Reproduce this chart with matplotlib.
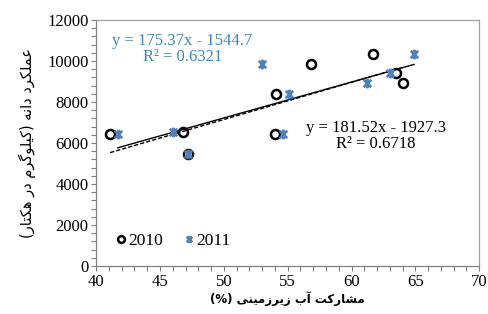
import matplotlib.pyplot as plt
from matplotlib.path import Path
from matplotlib.ticker import MultipleLocator

### Data ###

share_2010 = [41.1, 46.8, 47.2, 54.0, 54.1, 56.8, 61.7, 63.5, 64.0]
yield_2010 = [6450, 6540, 5460, 6420, 8390, 9850, 10330, 9430, 8910]

share_2011 = [41.7, 46.0, 47.2, 53.0, 54.6, 55.1, 61.2, 63.0, 64.9]
yield_2011 = [6420, 6520, 5460, 9850, 6420, 8370, 8940, 9430, 10340]

fit_2010 = (181.52, -1927.3, 0.6718)
fit_2011 = (175.37, -1544.7, 0.6321)

x_ticks = [40, 45, 50, 55, 60, 65, 70]
y_ticks = [0, 2000, 4000, 6000, 8000, 10000, 12000]

x_label = 'مشارکت آب زیرزمینی (%)'
y_label = 'عملکرد دانه (کیلوگرم در هکتار)'


### Persian shaping (no arabic_reshaper available) ###
# isolated, final, initial, medial
FORMS = {
    'ا': ('\uFE8D', '\uFE8E', None, None),
    'آ': ('\uFE81', '\uFE82', None, None),
    'د': ('\uFEA9', '\uFEAA', None, None),
    'ذ': ('\uFEAB', '\uFEAC', None, None),
    'ر': ('\uFEAD', '\uFEAE', None, None),
    'ز': ('\uFEAF', '\uFEB0', None, None),
    'ژ': ('\uFB8A', '\uFB8B', None, None),
    'و': ('\uFEED', '\uFEEE', None, None),
    'ب': ('\uFE8F', '\uFE90', '\uFE91', '\uFE92'),
    'پ': ('\uFB56', '\uFB57', '\uFB58', '\uFB59'),
    'ت': ('\uFE95', '\uFE96', '\uFE97', '\uFE98'),
    'ج': ('\uFE9D', '\uFE9E', '\uFE9F', '\uFEA0'),
    'س': ('\uFEB1', '\uFEB2', '\uFEB3', '\uFEB4'),
    'ش': ('\uFEB5', '\uFEB6', '\uFEB7', '\uFEB8'),
    'ع': ('\uFEC9', '\uFECA', '\uFECB', '\uFECC'),
    'ف': ('\uFED1', '\uFED2', '\uFED3', '\uFED4'),
    'ک': ('\uFB8E', '\uFB8F', '\uFB90', '\uFB91'),
    'گ': ('\uFB92', '\uFB93', '\uFB94', '\uFB95'),
    'ل': ('\uFEDD', '\uFEDE', '\uFEDF', '\uFEE0'),
    'م': ('\uFEE1', '\uFEE2', '\uFEE3', '\uFEE4'),
    'ن': ('\uFEE5', '\uFEE6', '\uFEE7', '\uFEE8'),
    'ه': ('\uFEE9', '\uFEEA', '\uFEEB', '\uFEEC'),
    'ی': ('\uFBFC', '\uFBFD', '\uFBFE', '\uFBFF'),
}


def rtl(text):
    out = []
    for i, c in enumerate(text):
        if c not in FORMS:
            out.append(c)
            continue
        prev = text[i - 1] if i > 0 else ''
        nxt = text[i + 1] if i + 1 < len(text) else ''
        join_prev = prev in FORMS and FORMS[prev][2] is not None
        join_next = nxt in FORMS and FORMS[c][2] is not None
        iso, fin, ini, med = FORMS[c]
        if join_prev and join_next:
            out.append(med)
        elif join_prev:
            out.append(fin)
        elif join_next:
            out.append(ini)
        else:
            out.append(iso)
    mirror = {'(': ')', ')': '('}
    return ''.join(mirror.get(c, c) for c in reversed(out))


def eq_text(fit):
    a, b, r2 = fit
    sign = '-' if b < 0 else '+'
    return 'y = %.2fx %s %.1f\nR² = %.4f' % (a, sign, abs(b), r2)


### Plotting ###

plt.rcParams['font.family'] = ['Liberation Serif', 'DejaVu Sans']

blue = '#4f81bd'
star = Path([(-1, -1), (1, 1), (-1, 1), (1, -1), (0, -1.3), (0, 1.3)],
            [Path.MOVETO, Path.LINETO, Path.MOVETO, Path.LINETO, Path.MOVETO, Path.LINETO])

fig = plt.figure(figsize=(4.88, 3.14), dpi=100)
ax = fig.add_axes([0.197, 0.153, 0.785, 0.783])

ax.plot(share_2010, yield_2010, linestyle='none', marker='o', markersize=6.5,
        markerfacecolor='none', markeredgecolor='black', markeredgewidth=1.8, label='2010', zorder=3)
ax.plot(share_2011, yield_2011, linestyle='none', marker=star, markersize=7,
        markerfacecolor='none', markeredgecolor=blue, markeredgewidth=2.0, label='2011', zorder=3)

# trend lines over each series' range
for xs, (a, b, r2), ls in [(share_2010, fit_2010, (0, (3, 1.5))), (share_2011, fit_2011, '-')]:
    x0, x1 = min(xs), max(xs)
    ax.plot([x0, x1], [a * x0 + b, a * x1 + b], color='black', linewidth=1.0, linestyle=ls, zorder=2)

ax.text(0.2245, 0.882, eq_text(fit_2011), transform=ax.transAxes,
        ha='center', va='center', multialignment='center', fontsize=12, color='#3f83c4',
        linespacing=1.0)
ax.text(0.731, 0.53, eq_text(fit_2010), transform=ax.transAxes,
        ha='center', va='center', multialignment='center', fontsize=12, color='black',
        linespacing=1.0)

ax.set_xlim(40, 70)
ax.set_ylim(0, 12000)
ax.set_xticks(x_ticks)
ax.set_yticks(y_ticks)
ax.xaxis.set_minor_locator(MultipleLocator(1))
ax.yaxis.set_minor_locator(MultipleLocator(400))
ax.tick_params(which='both', direction='out', length=3.5, width=0.8, color='#808080',
               labelsize=12, pad=2)
for s in ax.spines.values():
    s.set_color('#a0a0a0')
    s.set_linewidth(0.9)
ax.spines['left'].set_color('#808080')
ax.spines['bottom'].set_color('#808080')

ax.set_xlabel(rtl(x_label), family='DejaVu Sans', fontsize=8.5, fontweight='bold', labelpad=1)
ax.set_ylabel(rtl(y_label), family='DejaVu Sans', fontsize=10.5, labelpad=8)

ax.legend(loc='lower left', bbox_to_anchor=(0.02, 0.02), ncol=2, frameon=False, fontsize=12.5,
          handlelength=0.6, handletextpad=0.1, columnspacing=1.2, markerscale=0.75,
          borderpad=0.2)

fig.savefig('out.png', dpi=100)
